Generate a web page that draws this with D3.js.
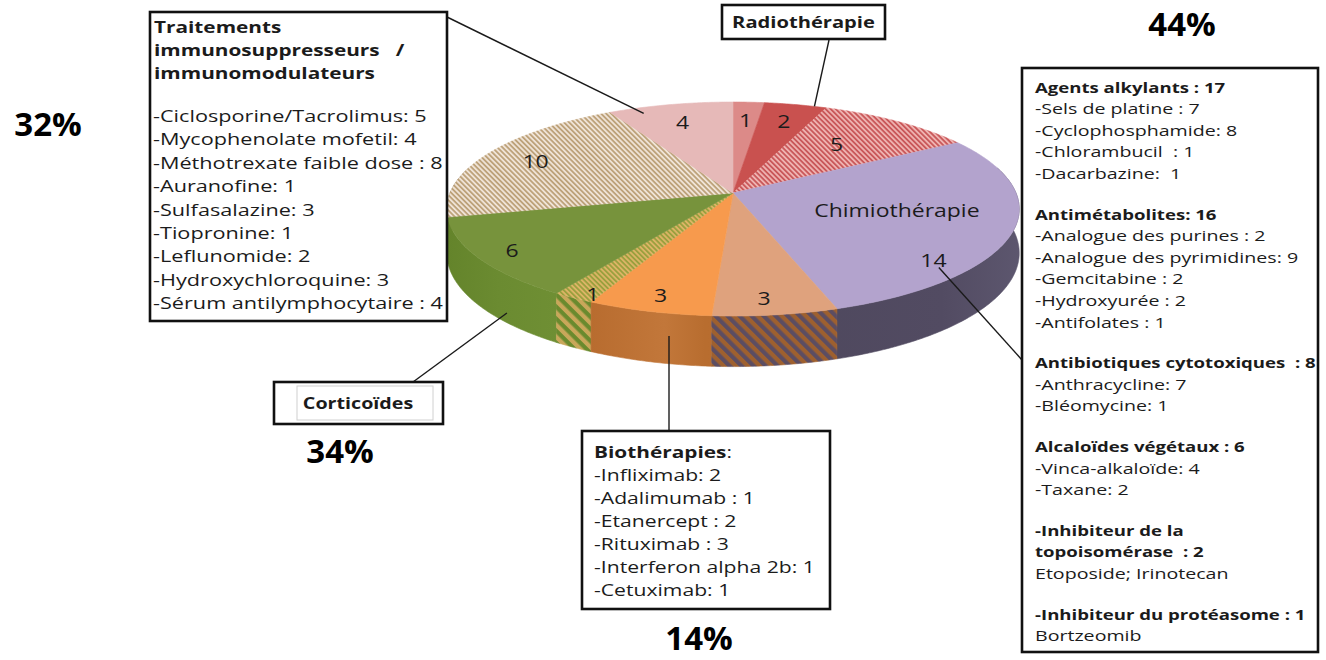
<!DOCTYPE html>
<html>
<head>
<meta charset="utf-8">
<script src="https://cdn.jsdelivr.net/npm/d3@7"></script>
<style>
  body { margin: 0; background: #fff; }
  svg { display: block; font-family: "Open Sans", sans-serif; }
  text { white-space: pre; }
</style>
</head>
<body>
<svg id="chart" width="1326" height="660"></svg>
<script>
// ---- data ----
const sliceValues = [1, 2, 5, 14, 3, 3, 1, 6, 10, 4];
const chimioName = "Chimiothérapie";
const radioName = "Radiothérapie";
const corticoName = "Corticoïdes";
const percentLabels = ["44%", "32%", "34%", "14%"];

const immunoTitle = ["Traitements", "immunosuppresseurs   /", "immunomodulateurs"];
const immunoItems = [
  "-Ciclosporine/Tacrolimus: 5",
  "-Mycophenolate mofetil: 4",
  "-Méthotrexate faible dose : 8",
  "-Auranofine: 1",
  "-Sulfasalazine: 3",
  "-Tiopronine: 1",
  "-Leflunomide: 2",
  "-Hydroxychloroquine: 3",
  "-Sérum antilymphocytaire : 4"
];
const bioTitle = "Biothérapies";
const bioItems = [
  "-Infliximab: 2",
  "-Adalimumab : 1",
  "-Etanercept : 2",
  "-Rituximab : 3",
  "-Interferon alpha 2b: 1",
  "-Cetuximab: 1"
];
const chimioSections = [
  { head: ["Agents alkylants : 17"], items: ["-Sels de platine : 7", "-Cyclophosphamide: 8", "-Chlorambucil  : 1", "-Dacarbazine:  1"] },
  { head: ["Antimétabolites: 16"], items: ["-Analogue des purines : 2", "-Analogue des pyrimidines: 9", "-Gemcitabine : 2", "-Hydroxyurée : 2", "-Antifolates : 1"] },
  { head: ["Antibiotiques cytotoxiques  : 8"], items: ["-Anthracycline: 7", "-Bléomycine: 1"] },
  { head: ["Alcaloïdes végétaux : 6"], items: ["-Vinca-alkaloïde: 4", "-Taxane: 2"] },
  { head: ["-Inhibiteur de la", "topoisomérase  : 2"], items: ["Etoposide; Irinotecan"] },
  { head: ["-Inhibiteur du protéasome : 1"], items: ["Bortzeomib"] }
];

// ---- styles ----
const topFills  = ["#dc8a88", "#c9514f", "url(#hRed)", "#b3a3cd", "#dfa27d", "#f79a4d", "url(#hOlive)", "#77933c", "url(#hTan)", "#e6b9b8"];
const sideFills = ["#a85a58", "#8e3533", "url(#hRedSide)", "url(#gLav)", "url(#hBrownSide)", "url(#gOrange)", "url(#hGreenSide)", "url(#gGreen)", "url(#hTanSide)", "#b08888"];
const labelRadius = [0.78, 0.79, 0.64, 0.87, 0.88, 0.88, 0.95, 0.88, 0.80, 0.78];
const labelShift  = [0, 0, -0.042, 0.38, 0.02, 0, -0.04, 0, 0, 0];   // radians added to the mid angle

const svg = d3.select("#chart");
const defs = svg.append("defs");

function stripes(id, a, b, size, share) {
  const p = defs.append("pattern").attr("id", id)
    .attr("patternUnits", "userSpaceOnUse")
    .attr("width", size).attr("height", size)
    .attr("patternTransform", "rotate(45)");
  p.append("rect").attr("width", size).attr("height", size).attr("fill", b);
  p.append("rect").attr("width", size).attr("height", size * share).attr("fill", a);
}
stripes("hRed", "#c9585a", "#eeb2b0", 3.6, 0.5);
stripes("hTan", "#bda27a", "#efe3d6", 3.6, 0.5);
stripes("hOlive", "#9aa03e", "#dcb466", 3.6, 0.5);
stripes("hRedSide", "#8e3533", "#b8706e", 8, 0.5);
stripes("hTanSide", "#8c7454", "#b8a48a", 8, 0.5);
stripes("hGreenSide", "#6a8a2e", "#c9a75a", 8.5, 0.5);
stripes("hBrownSide", "#9e602f", "#5c4d62", 8.5, 0.5);

function hGrad(id, stops) {
  const g = defs.append("linearGradient").attr("id", id)
    .attr("gradientUnits", "userSpaceOnUse")
    .attr("x1", 440).attr("x2", 1030).attr("y1", 0).attr("y2", 0);
  stops.forEach(s => g.append("stop").attr("offset", s[0]).attr("stop-color", s[1]));
}
hGrad("gLav", [[0, "#4d475c"], [0.5, "#4d475c"], [0.85, "#524b62"], [1, "#5e5870"]]);
hGrad("gOrange", [[0, "#a9622a"], [0.22, "#b5692c"], [0.38, "#c2773a"], [0.45, "#b86d2f"], [1, "#a9622a"]]);
hGrad("gGreen", [[0, "#63832a"], [0.1, "#6b8b31"], [0.2, "#6f8f34"], [1, "#6f8f34"]]);

// ---- 3D pie geometry (perspective-projected disc) ----
const cx = 733, cy = 193, rx = 283, ry = 104.6, persp = 6.68, depth = 43;
function project(angle, t = 1, drop = 0) {
  const u = Math.sin(angle) * t, v = -Math.cos(angle) * t;
  const f = persp / (persp - v);
  return [cx + rx * u * f, cy + ry * v * f + drop * f];
}
function arcPoints(a0, a1, drop) {
  const n = Math.max(2, Math.ceil(Math.abs(a1 - a0) / 0.01));
  return d3.range(n + 1).map(i => project(a0 + (a1 - a0) * i / n, 1, drop));
}
const line = d3.line();

const pie = d3.pie().sort(null).value(d => d).startAngle(0).endAngle(2 * Math.PI);
const arcs = pie(sliceValues);

const pieG = svg.append("g");

// side walls, back to front
const sideLo = Math.PI / 2 - 0.25, sideHi = 3 * Math.PI / 2 + 0.25;
const sides = arcs.map((d, i) => {
  const a = Math.max(d.startAngle, sideLo), b = Math.min(d.endAngle, sideHi);
  return { i, a, b };
}).filter(s => s.b > s.a)
  .sort((p, q) => Math.abs(Math.PI - (p.a + p.b) / 2) < Math.abs(Math.PI - (q.a + q.b) / 2) ? 1 : -1);

pieG.selectAll("path.side").data(sides).join("path")
  .attr("class", "side")
  .attr("d", s => line(arcPoints(s.a, s.b, 0).concat(arcPoints(s.b, s.a, depth))) + "Z")
  .attr("fill", s => sideFills[s.i])
  .attr("stroke", s => sideFills[s.i]).attr("stroke-width", 0.6);

// top faces
pieG.selectAll("path.top").data(arcs).join("path")
  .attr("class", "top")
  .attr("d", d => line([[cx, cy]].concat(arcPoints(d.startAngle, d.endAngle, 0))) + "Z")
  .attr("fill", (d, i) => topFills[i])
  .attr("stroke", (d, i) => topFills[i]).attr("stroke-width", 0.6);

// text drawn with a horizontal stretch (regular and bold widths differ)
const SXR = 1.29, SXB = 1.24, SXP = 1.21;
function stretched(parent, x, y, txt, size, weight, anchor, sx) {
  const k = sx || (weight >= 700 ? SXB : SXR);
  const g = parent.append("g").attr("transform", `translate(${x},${y}) scale(${k},1)`);
  return g.append("text").attr("text-anchor", anchor || "start")
    .attr("font-size", size).attr("font-weight", weight || 400)
    .attr("fill", "#1b1b1b").text(txt);
}
// value labels on the slices
arcs.forEach((d, i) => {
  const mid = (d.startAngle + d.endAngle) / 2 + labelShift[i];
  const [x, y] = project(mid, labelRadius[i]);
  stretched(pieG, x, y + 7, String(d.value), 19, 400, "middle", SXP);
});
// category name inside the chemotherapy slice
{
  const d = arcs[3];
  const [x, y] = project(d.startAngle + (d.endAngle - d.startAngle) * 0.45, 0.6);
  stretched(pieG, x - 4, y + 7, chimioName, 19, 400, "middle", SXP);
}

// ---- annotation boxes ----
const ann = svg.append("g");
function box(x0, y0, x1, y1, w) {
  ann.append("rect").attr("x", x0).attr("y", y0).attr("width", x1 - x0).attr("height", y1 - y0)
    .attr("fill", "#fff").attr("stroke", "#111").attr("stroke-width", w || 2.6);
}
function leader(p, q) {
  ann.append("line").attr("x1", p[0]).attr("y1", p[1]).attr("x2", q[0]).attr("y2", q[1])
    .attr("stroke", "#1a1a1a").attr("stroke-width", 1.4);
}

// immunosuppressants box
leader([447, 17], project(arcs[9].startAngle + 0.12, 0.93));
box(150, 12, 447, 321);
immunoTitle.forEach((t, k) => stretched(ann, 154, 33 + k * 23.2, t, 16.5, 700, "start", 1.26));
immunoItems.forEach((t, k) => stretched(ann, 153, 122 + k * 23.4, t, 16.8, 400));

// radiotherapy tag
leader([829, 40], project(arcs[1].endAngle - 0.05, 1.0));
box(722, 5, 885, 39);
stretched(ann, 803.5, 28, radioName, 15.5, 700, "middle", 1.3);

// corticosteroids tag
leader([413, 382], project(arcs[7].startAngle + 0.22, 1, depth * 0.8));
box(274, 382, 443, 424);
ann.append("rect").attr("x", 297).attr("y", 386).attr("width", 136).attr("height", 34)
  .attr("fill", "#fff").attr("stroke", "#d0d0d0").attr("stroke-width", 1);
stretched(ann, 358, 409, corticoName, 15.5, 700, "middle", 1.27);

// biotherapies box
leader([669, 431], project(arcs[5].startAngle + 0.13, 1, depth * 0.45));
box(582, 431, 830, 609);
{
  const t = stretched(ann, 594, 458, "", 16.4, 400, "start", 1.27);
  t.append("tspan").attr("font-weight", 700).text(bioTitle);
  t.append("tspan").text(":");
}
bioItems.forEach((t, k) => stretched(ann, 594, 481 + k * 23, t, 16.4, 400));

// chemotherapy box
leader(project(arcs[3].startAngle + 1.32, 0.92), [1022, 360]);
box(1022, 68, 1318, 652);
{
  let y = 92.5;
  chimioSections.forEach((sec, s) => {
    if (s > 0) y += 19;
    sec.head.forEach(h => { stretched(ann, 1035, y, h, 15.0, 700); y += 21.6; });
    sec.items.forEach(it => { stretched(ann, 1035, y, it, 15.2, 400); y += 21.6; });
  });
}

// group shares
const pctPos = [[1182, 35.5], [48, 136], [340, 463], [699, 650]];
percentLabels.forEach((p, k) => {
  ann.append("text").attr("x", pctPos[k][0]).attr("y", pctPos[k][1])
    .attr("text-anchor", "middle").attr("font-size", 33).attr("font-weight", 700)
    .attr("fill", "#000").text(p);
});
</script>
</body>
</html>
